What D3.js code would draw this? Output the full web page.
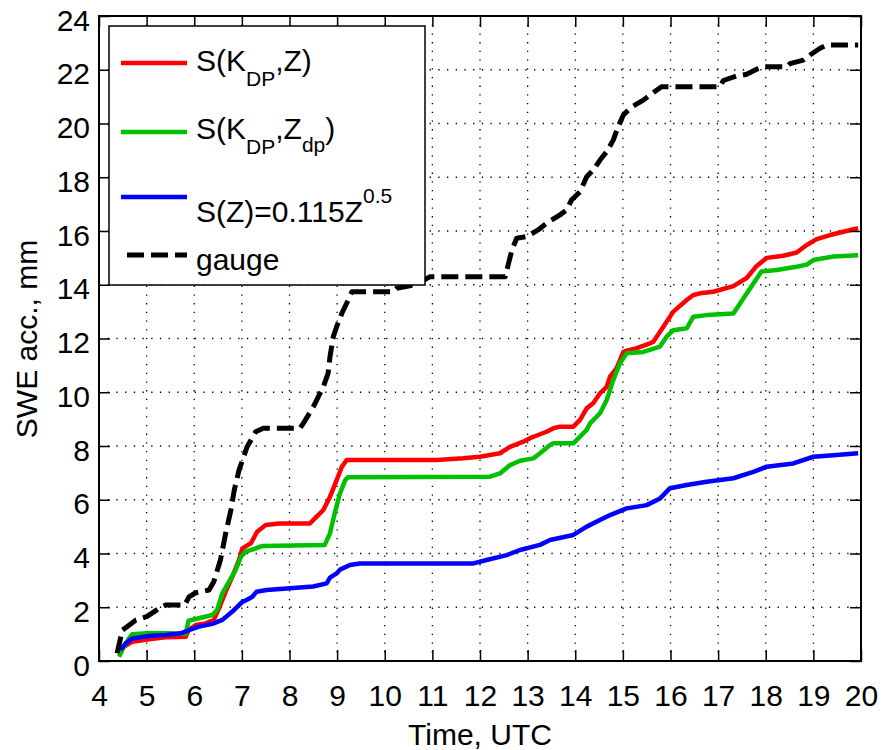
<!DOCTYPE html>
<html>
<head>
<meta charset="utf-8">
<script src="https://cdn.jsdelivr.net/npm/d3@7"></script>
<style>
  html, body { margin: 0; padding: 0; background: #fff; }
  svg text { font-family: "Liberation Sans", Arial, Helvetica, sans-serif; fill: #000; }
</style>
</head>
<body>
<svg id="chart" width="894" height="750"></svg>
<script>
// Accumulated snow water equivalent (mm) vs. time (UTC hours)
const xTicks = [4,5,6,7,8,9,10,11,12,13,14,15,16,17,18,19,20];
const yTicks = [0,2,4,6,8,10,12,14,16,18,20,22,24];

// S(K_DP, Z)
const kdpZTime = [4.42,4.52,4.70,5.05,5.40,5.82,5.88,6.03,6.24,6.41,6.52,6.66,6.80,6.94,7.01,7.19,7.32,7.50,7.78,8.43,8.57,8.71,8.85,8.99,9.10,9.20,11.09,11.65,12.00,12.42,12.63,12.91,13.05,13.22,13.40,13.54,13.68,13.96,14.10,14.24,14.38,14.52,14.66,14.73,14.87,15.01,15.08,15.29,15.57,15.64,15.85,16.06,16.34,16.48,16.62,16.90,17.32,17.60,17.81,18.02,18.37,18.65,18.86,19.07,19.35,19.63,19.94];
const kdpZSWE  = [0.29,0.53,0.72,0.81,0.88,0.90,1.15,1.34,1.40,1.53,1.96,2.58,3.14,3.76,4.19,4.38,4.81,5.06,5.12,5.12,5.37,5.62,6.11,6.73,7.23,7.48,7.48,7.54,7.60,7.73,7.97,8.16,8.29,8.41,8.53,8.66,8.72,8.72,8.97,9.40,9.60,9.96,10.20,10.58,10.90,11.50,11.55,11.64,11.82,11.88,12.44,13.00,13.43,13.62,13.68,13.74,13.95,14.25,14.70,15.00,15.08,15.20,15.48,15.70,15.85,15.97,16.10];

// S(K_DP, Z_dp)
const kdpZdpTime = [4.42,4.52,4.63,4.70,5.00,5.50,5.82,5.88,6.10,6.38,6.48,6.59,6.73,6.87,6.98,7.08,7.29,7.43,8.74,8.85,8.95,9.06,9.17,9.23,12.21,12.42,12.63,12.84,13.12,13.26,13.47,13.54,13.96,14.10,14.24,14.31,14.52,14.66,14.80,14.94,15.08,15.43,15.78,15.92,16.06,16.34,16.48,16.76,17.32,17.53,17.74,17.91,18.23,18.65,18.86,19.00,19.42,19.94];
const kdpZdpSWE  = [0.16,0.53,0.84,1.00,1.03,1.03,1.00,1.50,1.59,1.71,1.90,2.52,2.95,3.39,3.88,4.07,4.19,4.28,4.32,4.75,5.50,6.24,6.73,6.84,6.86,6.98,7.29,7.45,7.54,7.73,8.04,8.10,8.10,8.35,8.60,8.84,9.22,9.71,10.46,11.08,11.45,11.50,11.70,12.07,12.31,12.38,12.81,12.87,12.93,13.49,14.05,14.49,14.55,14.67,14.75,14.92,15.05,15.10];

// S(Z) = 0.115 Z^0.5
const zTime = [4.45,4.56,4.70,5.05,5.40,5.72,5.89,6.10,6.38,6.59,6.80,7.01,7.10,7.22,7.31,7.52,7.94,8.50,8.78,8.85,8.99,9.06,9.27,9.48,11.86,12.14,12.56,12.84,13.26,13.47,13.96,14.24,14.73,15.08,15.50,15.78,15.99,16.34,16.76,17.32,17.74,18.02,18.58,19.00,19.42,19.94];
const zSWE  = [0.41,0.66,0.84,0.93,0.97,1.03,1.15,1.28,1.38,1.53,1.84,2.20,2.27,2.39,2.58,2.64,2.70,2.77,2.89,3.10,3.26,3.40,3.57,3.63,3.63,3.76,3.94,4.13,4.32,4.50,4.69,5.00,5.43,5.68,5.80,6.05,6.43,6.55,6.67,6.80,7.04,7.23,7.35,7.60,7.66,7.73];

// gauge
const gaugeTime = [4.38,4.49,4.77,5.00,5.16,5.30,5.40,5.80,5.89,6.03,6.31,6.41,6.55,6.66,6.77,6.84,6.94,7.11,7.29,7.45,8.22,8.29,8.50,8.71,8.81,8.85,8.92,8.99,9.10,9.20,9.31,10.18,10.25,10.60,10.85,10.95,12.53,12.60,12.67,12.77,12.98,13.22,13.40,13.68,13.82,13.92,14.10,14.24,14.38,14.52,14.66,14.80,14.90,15.01,15.19,15.43,15.57,15.81,17.04,17.11,17.39,17.60,17.81,17.95,18.44,18.51,18.79,18.93,19.14,19.28,19.94];
const gaugeSWE  = [0.29,1.15,1.52,1.65,1.84,2.00,2.08,2.08,2.39,2.54,2.64,2.95,3.76,4.75,5.62,6.36,7.10,7.97,8.53,8.66,8.66,8.84,9.46,10.20,10.70,11.32,12.07,12.44,12.94,13.31,13.74,13.74,13.87,13.99,14.20,14.30,14.30,14.80,15.29,15.73,15.79,16.04,16.29,16.60,16.78,17.15,17.46,18.02,18.27,18.64,18.95,19.39,19.88,20.32,20.62,20.87,21.06,21.37,21.37,21.60,21.77,21.83,22.02,22.11,22.11,22.23,22.36,22.55,22.80,22.92,22.92];

const seriesNames  = ["kdpZ", "kdpZdp", "z", "gauge"];
const seriesColors = ["#ff0000", "#00c000", "#0000ff", "#000000"];

const series = [
  { name: seriesNames[0], color: seriesColors[0], t: kdpZTime,   v: kdpZSWE,   dashed: false },
  { name: seriesNames[1], color: seriesColors[1], t: kdpZdpTime, v: kdpZdpSWE, dashed: false },
  { name: seriesNames[2], color: seriesColors[2], t: zTime,      v: zSWE,      dashed: false },
  { name: seriesNames[3], color: seriesColors[3], t: gaugeTime,  v: gaugeSWE,  dashed: true }
];

const svg = d3.select("#chart");
const L = 99, R = 861, T = 16, B = 661;

const x = d3.scaleLinear().domain([4, 20]).range([L, R]);
const y = d3.scaleLinear().domain([0, 24]).range([B, T]);

// dotted grid
const grid = svg.append("g");
grid.selectAll("line.gx").data(xTicks.slice(1, -1)).join("line")
  .attr("x1", d => x(d)).attr("x2", d => x(d)).attr("y1", T).attr("y2", B)
  .attr("stroke", "#000").attr("stroke-width", 1.3).attr("stroke-dasharray", "1.3,7.4");
grid.selectAll("line.gy").data(yTicks.slice(1, -1)).join("line")
  .attr("y1", d => y(d)).attr("y2", d => y(d)).attr("x1", L).attr("x2", R)
  .attr("stroke", "#000").attr("stroke-width", 1.3).attr("stroke-dasharray", "1.3,7.4");

// data lines
const line = d3.line().x(d => x(d[0])).y(d => y(d[1]));
const plot = svg.append("g");
series.forEach(s => {
  const pts = s.t.map((t, i) => [t, s.v[i]]);
  plot.append("path").datum(pts)
    .attr("d", line)
    .attr("fill", "none")
    .attr("stroke", s.color)
    .attr("stroke-width", s.dashed ? 5 : 4.5)
    .attr("stroke-linejoin", "round")
    .attr("stroke-dasharray", s.dashed ? "17,7" : null);
});

// axes with inward ticks on all four sides
const fontPx = 30;
const axB = svg.append("g").attr("transform", `translate(0,${B})`)
  .call(d3.axisBottom(x).tickValues(xTicks).tickFormat(d3.format("d")).tickSizeInner(-11).tickSizeOuter(0).tickPadding(24));
const axL = svg.append("g").attr("transform", `translate(${L},0)`)
  .call(d3.axisLeft(y).tickValues(yTicks).tickFormat(d3.format("d")).tickSizeInner(-11).tickSizeOuter(0).tickPadding(9));
const axT = svg.append("g").attr("transform", `translate(0,${T})`)
  .call(d3.axisTop(x).tickValues(xTicks).tickFormat("").tickSizeInner(-11).tickSizeOuter(0));
const axR = svg.append("g").attr("transform", `translate(${R},0)`)
  .call(d3.axisRight(y).tickValues(yTicks).tickFormat("").tickSizeInner(-11).tickSizeOuter(0));

[axB, axL, axT, axR].forEach(a => {
  a.select(".domain").remove();
  a.selectAll(".tick line").attr("stroke", "#000").attr("stroke-width", 1.5);
  a.selectAll(".tick text").attr("font-size", fontPx).attr("font-family", null);
});
axL.selectAll(".tick text").attr("dy", "14px");

svg.append("rect").attr("x", L).attr("y", T).attr("width", R - L).attr("height", B - T)
  .attr("fill", "none").attr("stroke", "#000").attr("stroke-width", 2);

// axis titles
svg.append("text").attr("x", 480).attr("y", 745).attr("text-anchor", "middle")
  .attr("font-size", fontPx).text("Time, UTC");
svg.append("text").attr("transform", "translate(37,339) rotate(-90)").attr("text-anchor", "middle")
  .attr("font-size", fontPx).text("SWE acc., mm");

// legend
const lg = svg.append("g");
lg.append("rect").attr("x", 109).attr("y", 26).attr("width", 316).attr("height", 259)
  .attr("fill", "#fff").attr("stroke", "#000").attr("stroke-width", 1.5);

const legendLineY = [63, 132, 197, 255];
series.forEach((s, i) => {
  lg.append("line")
    .attr("x1", s.dashed ? 127 : 121).attr("x2", 187)
    .attr("y1", legendLineY[i]).attr("y2", legendLineY[i])
    .attr("stroke", s.color).attr("stroke-width", s.dashed ? 5 : 4.5)
    .attr("stroke-dasharray", s.dashed ? "17,7" : null);
});

const subPx = 21;
function legendText(yBase, parts) {
  const t = lg.append("text").attr("x", 196).attr("y", yBase).attr("font-size", fontPx);
  let shift = 0;
  parts.forEach(p => {
    const target = p.dy || 0;
    t.append("tspan")
      .attr("dy", target - shift)
      .attr("font-size", p.small ? subPx : fontPx)
      .text(p.s);
    shift = target;
  });
}
legendText(71,  [{s: "S(K"}, {s: "DP", small: true, dy: 15}, {s: ",Z)"}]);
legendText(139, [{s: "S(K"}, {s: "DP", small: true, dy: 15}, {s: ",Z"}, {s: "dp", small: true, dy: 13}, {s: ")"}]);
legendText(222, [{s: "S(Z)=0.115Z"}, {s: "0.5", small: true, dy: -19}]);
legendText(270, [{s: "gauge"}]);
</script>
</body>
</html>
